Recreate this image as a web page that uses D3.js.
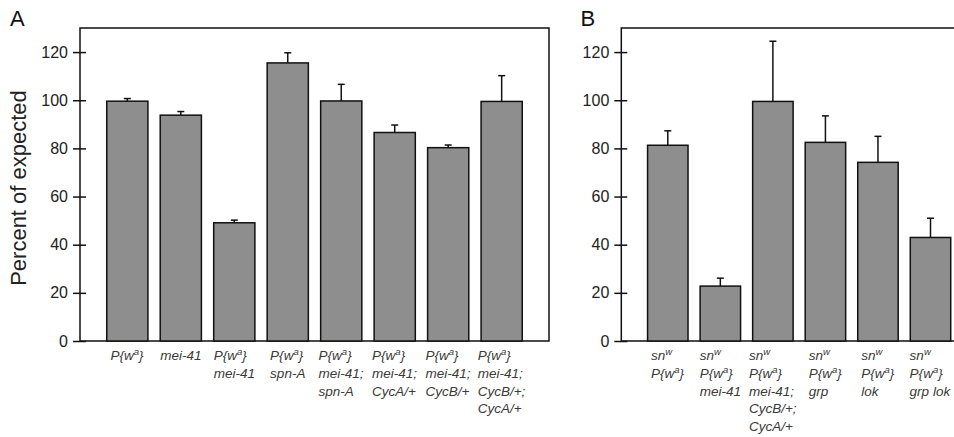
<html>
<script src='https://d3js.org/d3.v7.min.js'></script>
<style>
  body { margin: 0; background: white; }
  text { font-family: "Liberation Sans", Arial, sans-serif; }
</style>
<body>
<svg class="chart" width=954 height=437></svg>
<script>
// panel A
var labelsA = [["P{w^a}"], ["mei-41"], ["P{w^a}", "mei-41"], ["P{w^a}", "spn-A"],
               ["P{w^a}", "mei-41;", "spn-A"], ["P{w^a}", "mei-41;", "CycA/+"],
               ["P{w^a}", "mei-41;", "CycB/+"], ["P{w^a}", "mei-41;", "CycB/+;", "CycA/+"]];
var valuesA = [99.6, 93.8, 49.1, 115.5, 99.7, 86.6, 80.3, 99.5];
var errorsA = [1.1, 1.5, 1.1, 4.2, 6.9, 3.1, 1.1, 10.7];

// panel B
var labelsB = [["sn^w", "P{w^a}"], ["sn^w", "P{w^a}", "mei-41"],
               ["sn^w", "P{w^a}", "mei-41;", "CycB/+;", "CycA/+"],
               ["sn^w", "P{w^a}", "grp"], ["sn^w", "P{w^a}", "lok"], ["sn^w", "P{w^a}", "grp lok"]];
var valuesB = [81.3, 22.8, 99.5, 82.5, 74.2, 43.0];
var errorsB = [6.0, 3.3, 25.0, 11.0, 10.8, 8.0];

var yTicks = [0, 20, 40, 60, 80, 100, 120];

var svg = d3.select(".chart");
var top0 = 28, bottom0 = 341;
var y = d3.scaleLinear().domain([0, 130]).range([bottom0, top0]);

// y axis title
svg.append("text")
  .attr("transform", "translate(25.5,188) rotate(-90)")
  .attr("text-anchor", "middle")
  .attr("font-size", "22px")
  .attr("fill", "#222")
  .text("Percent of expected");

function drawPanel(letter, letterX, left, right, labels, values, errors) {
  var x = d3.scaleBand()
    .domain(d3.range(values.length))
    .range([left, right])
    .paddingInner(0.23)
    .paddingOuter(0.5);

  var g = svg.append("g");

  // panel letter
  g.append("text")
    .attr("x", letterX).attr("y", 26)
    .attr("font-size", "22px")
    .attr("fill", "#111")
    .text(letter);

  // frame
  g.append("rect")
    .attr("x", left).attr("y", top0)
    .attr("width", right - left).attr("height", bottom0 - top0)
    .attr("fill", "none")
    .attr("stroke", "#111")
    .attr("stroke-width", 1.5);

  // bars
  g.selectAll(".bar").data(values).enter()
    .append("rect")
      .attr("class", "bar")
      .attr("x", function(d, i) { return x(i); })
      .attr("y", function(d) { return y(d); })
      .attr("width", x.bandwidth())
      .attr("height", function(d) { return y(0) - y(d); })
      .attr("fill", "#8e8e8e")
      .attr("stroke", "#111")
      .attr("stroke-width", 1.5);

  // error bars
  var eb = g.selectAll(".err").data(values).enter().append("g").attr("class", "err");
  eb.append("line")
    .attr("x1", function(d, i) { return x(i) + x.bandwidth() / 2; })
    .attr("x2", function(d, i) { return x(i) + x.bandwidth() / 2; })
    .attr("y1", function(d) { return y(d); })
    .attr("y2", function(d, i) { return y(d + errors[i]); })
    .attr("stroke", "#111").attr("stroke-width", 1.5);
  eb.append("line")
    .attr("x1", function(d, i) { return x(i) + x.bandwidth() / 2 - 3.5; })
    .attr("x2", function(d, i) { return x(i) + x.bandwidth() / 2 + 3.5; })
    .attr("y1", function(d, i) { return y(d + errors[i]); })
    .attr("y2", function(d, i) { return y(d + errors[i]); })
    .attr("stroke", "#111").attr("stroke-width", 1.5);

  // y axis, ticks cross the axis line
  var ax = g.append("g")
    .attr("transform", "translate(" + left + ",0)")
    .call(d3.axisLeft(y).tickValues(yTicks).tickSize(7).tickSizeOuter(0).tickPadding(5));
  ax.select(".domain").remove();
  ax.selectAll(".tick line").attr("x1", 6).attr("stroke", "#111").attr("stroke-width", 1.5);
  ax.selectAll(".tick text")
    .attr("font-size", "16px")
    .attr("font-family", "Liberation Sans, Arial, sans-serif")
    .attr("fill", "#222");

  // category labels: lines left aligned, block centred on the bar
  labels.forEach(function(lines, i) {
    var lg = g.append("g");
    var txt = lg.append("text")
      .attr("font-size", "13.5px")
      .attr("font-style", "italic")
      .attr("fill", "#3a3a3a");
    lines.forEach(function(line, j) {
      var parts = line.split(/\^(.)/);
      parts.forEach(function(p, k) {
        if (p === "") return;
        var ts = txt.append("tspan").text(p);
        if (k === 0) ts.attr("x", 0).attr("y", j * 17.8);
        if (k % 2 === 1) {
          ts.attr("font-size", "9.5px").attr("dy", -5);
        } else if (k > 0) {
          ts.attr("dy", 5);
        }
      });
    });
    var w = txt.node().getBBox().width;
    lg.attr("transform", "translate(" + (x(i) + x.bandwidth() / 2 - w / 2) + ",360)");
  });
}

drawPanel("A", 10, 80, 549, labelsA, valuesA, errorsA);
drawPanel("B", 580.5, 621.3, 977, labelsB, valuesB, errorsB);
</script>
</body>
</html>
